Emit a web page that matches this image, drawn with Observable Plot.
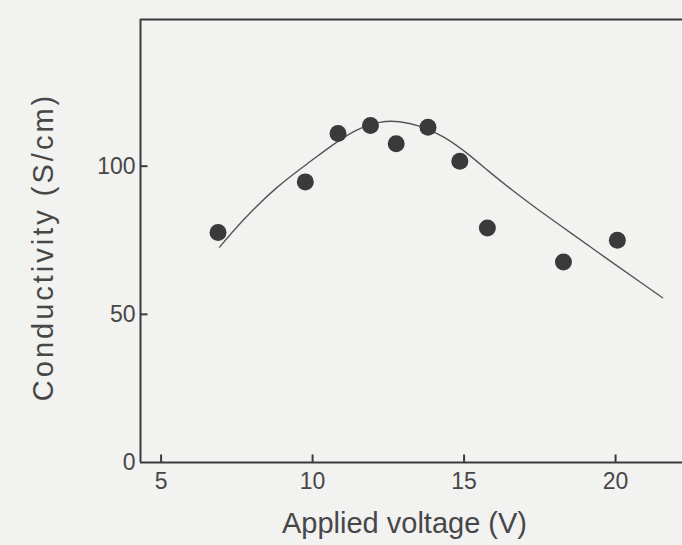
<!DOCTYPE html>
<html><head><meta charset="utf-8">
<script src="https://cdn.jsdelivr.net/npm/d3@7"></script>
<script src="https://cdn.jsdelivr.net/npm/@observablehq/plot@0.6"></script>
<style>
html,body{margin:0;padding:0;background:#f2f2f0;}
#chart svg{display:block;}
</style></head><body><div id="chart"></div>
<script>
// Measured points
const voltage = [6.88, 9.76, 10.84, 11.91, 12.76, 13.81, 14.86, 15.77, 18.28, 20.06];
const conductivity = [77.6, 94.7, 111.0, 113.7, 107.6, 113.1, 101.7, 79.1, 67.7, 75.0];
// Fitted curve
const fitVoltage = [6.93, 7.70, 8.80, 9.90, 10.67, 11.44, 12.21, 12.87, 13.53, 14.30, 15.08, 15.85, 16.62, 17.44, 18.60, 19.70, 20.80, 21.55];
const fitConductivity = [72.7, 81.7, 92.6, 101.4, 107.2, 112.1, 114.8, 115.0, 113.5, 110.0, 104.5, 98.0, 91.7, 85.4, 76.9, 68.9, 61.0, 55.6];
// Ticks and labels
const xTicks = [5, 10, 15, 20];
const yTicks = [0, 50, 100];
const yTickMarks = [50, 100];
const xLabel = "Applied voltage (V)";
const yLabel = "Conductivity (S/cm)";

const points = voltage.map((v, i) => ({v, c: conductivity[i]}));
const fit = fitVoltage.map((v, i) => ({v, c: fitConductivity[i]}));

const W = 682, H = 545, mL = 140, mR = 0, mT = 19, mB = 83;
const xDomain = [4.32, 22.21], yDomain = [0, 149.5];
// inward tick lengths (8px, 7px) in data units
const xTickLen = 8 * (yDomain[1] - yDomain[0]) / (H - mT - mB);
const yTickLen = 7 * (xDomain[1] - xDomain[0]) / (W - mL - mR);
const ink = "#3a3a3a";
const textInk = "#474747";

const chart = Plot.plot({
  width: W, height: H,
  marginLeft: mL, marginRight: mR, marginTop: mT, marginBottom: mB,
  style: {background: "#f2f2f0", fontFamily: "'Liberation Sans', Arial, sans-serif", color: textInk},
  x: {domain: xDomain},
  y: {domain: yDomain},
  marks: [
    Plot.ruleX([xDomain[0]], {stroke: ink, strokeWidth: 2}),
    Plot.ruleY([yDomain[1]], {stroke: ink, strokeWidth: 2}),
    Plot.ruleY([yDomain[0]], {stroke: ink, strokeWidth: 2}),
    Plot.axisX(xTicks, {anchor: "bottom", tickSize: 0, tickPadding: 10, fontSize: 23, fill: textInk, label: null}),
    Plot.axisY(yTicks, {anchor: "left", tickSize: 0, tickPadding: 5, fontSize: 23, fill: textInk, label: null}),
    Plot.link(xTicks, {x1: d => d, x2: d => d, y1: yDomain[0], y2: yDomain[0] + xTickLen, stroke: ink, strokeWidth: 2}),
    Plot.link(yTickMarks, {x1: xDomain[0], x2: xDomain[0] + yTickLen, y1: d => d, y2: d => d, stroke: ink, strokeWidth: 2}),
    Plot.text([xLabel], {text: d => d, frameAnchor: "bottom", textAnchor: "middle", lineAnchor: "bottom", dx: -7, dy: 70, fontSize: 29, fill: textInk}),
    Plot.text([yLabel], {text: d => d, frameAnchor: "left", textAnchor: "middle", lineAnchor: "top", rotate: -90, dx: -108, dy: 6, fontSize: 29, fill: textInk}),
    Plot.line(fit, {x: "v", y: "c", curve: "natural", stroke: "#555", strokeWidth: 1.4}),
    Plot.dot(points, {x: "v", y: "c", r: 8.5, fill: ink, stroke: "none"})
  ]
});
d3.select(chart).selectAll("text").filter(function() { return this.textContent === yLabel; }).attr("letter-spacing", "3px");
document.getElementById("chart").append(chart);
</script></body></html>
